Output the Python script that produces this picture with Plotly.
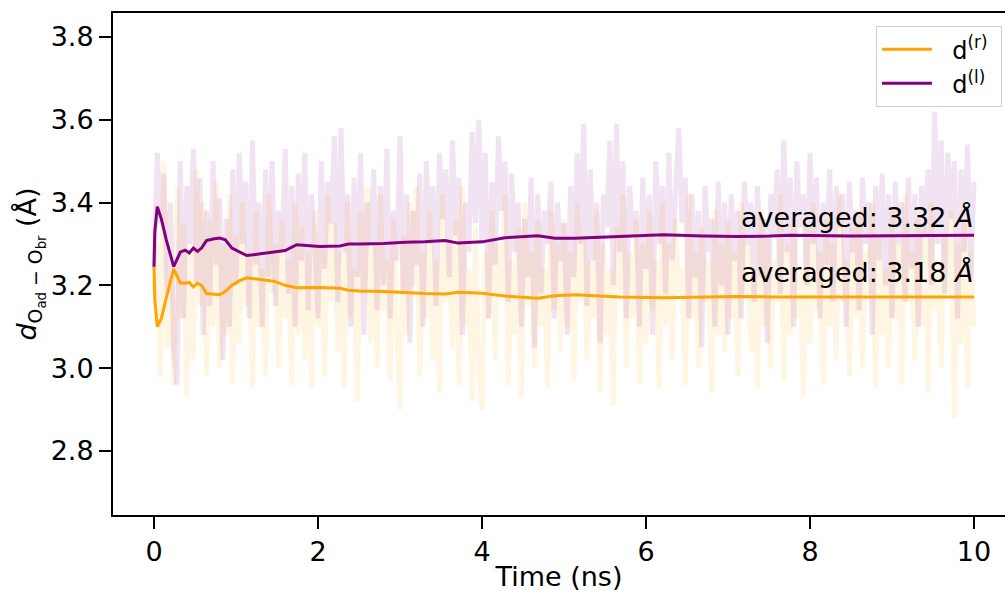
import numpy as np
import plotly.graph_objects as go

# ---------------- data ----------------
# raw trajectories, sampled every 0.04 ns from 0 to 10 ns
raw_l = [
    3.24, 3.52, 3.35, 3.47, 3.18, 3.40, 3.05, 2.96, 3.50, 3.12, 3.44, 3.30, 3.53, 3.20, 3.46, 3.08, 3.38, 3.15, 3.50, 3.25, 3.41, 3.02, 3.36, 3.10, 3.48,
    3.20, 3.52, 3.30, 3.45, 3.12, 3.55, 3.25, 3.40, 3.10, 3.48, 3.22, 3.50, 3.15, 3.38, 3.28, 3.53, 3.18, 3.44, 3.10, 3.47, 3.26, 3.52, 3.14, 3.42, 3.30,
    3.12, 3.50, 3.24, 3.45, 3.35, 3.56, 3.16, 3.58, 3.28, 3.42, 3.10, 3.46, 3.22, 3.52, 3.08, 3.40, 3.30, 3.48, 3.14, 3.44, 3.20, 3.53, 3.12, 3.38, 3.26,
    3.56, 3.18, 3.42, 3.06, 3.38, 3.25, 3.47, 3.10, 3.50, 3.30, 3.44, 3.15, 3.52, 3.36, 3.48, 3.22, 3.55, 3.32, 3.46, 3.08, 3.40, 3.28, 3.57, 3.35, 3.60,
    3.30, 3.52, 3.12, 3.45, 3.25, 3.56, 3.38, 3.50, 3.16, 3.47, 3.28, 3.40, 3.10, 3.36, 3.22, 3.46, 3.05, 3.42, 3.18, 3.38, 3.30, 3.45, 3.12, 3.40, 3.26,
    3.35, 3.08, 3.44, 3.22, 3.52, 3.30, 3.59, 3.15, 3.48, 3.26, 3.40, 3.06, 3.42, 3.34, 3.55, 3.20, 3.59, 3.28, 3.50, 3.12, 3.44, 3.32, 3.38, 3.10, 3.46,
    3.24, 3.42, 3.08, 3.50, 3.30, 3.44, 3.18, 3.52, 3.26, 3.40, 3.58, 3.35, 3.46, 3.12, 3.42, 3.22, 3.38, 3.05, 3.44, 3.28, 3.36, 3.10, 3.45, 3.20, 3.40,
    3.08, 3.42, 3.26, 3.38, 3.12, 3.45, 3.30, 3.40, 3.16, 3.44, 3.22, 3.36, 3.06, 3.42, 3.32, 3.48, 3.18, 3.55, 3.28, 3.46, 3.10, 3.50, 3.34, 3.42, 3.20,
    3.52, 3.30, 3.46, 3.12, 3.40, 3.25, 3.48, 3.16, 3.44, 3.34, 3.42, 3.10, 3.45, 3.28, 3.38, 3.14, 3.46, 3.30, 3.40, 3.08, 3.44, 3.26, 3.47, 3.20, 3.42,
    3.12, 3.45, 3.30, 3.40, 3.16, 3.46, 3.24, 3.42, 3.10, 3.44, 3.32, 3.48, 3.20, 3.62, 3.30, 3.55, 3.18, 3.52, 3.36, 3.50, 3.12, 3.48, 3.28, 3.54, 3.22,
    3.45,
]
raw_r = [
    3.18, 3.30, 2.98, 3.50, 3.05, 3.22, 2.96, 3.44, 3.12, 3.35, 2.93, 3.28, 3.02, 3.48, 3.15, 3.40, 2.98, 3.36, 3.10, 3.45, 3.00, 3.30, 3.08, 3.42, 2.96,
    3.32, 3.06, 3.40, 3.15, 3.28, 2.95, 3.38, 3.10, 3.24, 2.98, 3.42, 3.18, 3.30, 3.00, 3.36, 3.12, 3.26, 2.96, 3.40, 3.08, 3.34, 3.02, 3.28, 2.95, 3.38,
    3.10, 3.30, 2.98, 3.42, 3.16, 3.35, 3.04, 3.28, 2.95, 3.40, 3.12, 3.24, 2.92, 3.38, 3.18, 3.44, 3.06, 3.30, 3.00, 3.42, 3.14, 3.26, 2.97, 3.36, 3.10,
    2.90, 3.32, 3.08, 3.40, 3.20, 3.44, 2.98, 3.28, 3.12, 3.38, 3.02, 3.26, 2.94, 3.42, 3.16, 3.30, 3.05, 3.36, 2.96, 3.44, 3.10, 3.24, 2.92, 3.34, 3.00,
    2.90, 3.28, 3.12, 3.38, 3.02, 3.30, 3.18, 3.42, 2.96, 3.26, 3.08, 3.34, 2.93, 3.40, 3.15, 3.28, 3.00, 3.36, 3.10, 3.24, 2.95, 3.38, 3.14, 3.30, 3.04,
    3.36, 3.10, 3.28, 2.97, 3.40, 3.16, 3.32, 3.02, 3.26, 3.12, 3.38, 2.94, 3.30, 3.08, 3.24, 2.91, 3.34, 3.18, 3.42, 3.00, 3.28, 3.12, 3.36, 2.96, 3.30,
    3.06, 3.38, 3.14, 3.26, 2.95, 3.40, 3.10, 3.30, 3.02, 3.36, 3.18, 3.24, 2.96, 3.42, 3.12, 3.28, 3.00, 3.34, 3.16, 3.26, 2.94, 3.38, 3.08, 3.30, 3.04,
    3.36, 3.12, 3.28, 2.98, 3.40, 3.18, 3.30, 3.04, 3.24, 2.95, 3.38, 3.10, 3.32, 3.00, 3.26, 3.16, 3.42, 2.97, 3.30, 3.08, 3.36, 3.12, 3.24, 2.93, 3.34,
    3.06, 3.40, 3.14, 3.28, 2.96, 3.36, 3.10, 3.30, 3.02, 3.42, 3.16, 3.26, 2.98, 3.34, 3.12, 3.38, 3.00, 3.28, 3.18, 3.40, 2.95, 3.32, 3.08, 3.24, 3.00,
    3.38, 3.12, 3.30, 2.96, 3.42, 3.16, 3.28, 3.02, 3.36, 3.10, 3.34, 2.94, 3.40, 3.14, 3.26, 3.00, 3.32, 3.18, 3.38, 2.88, 3.30, 3.06, 3.36, 2.95, 3.28,
    3.10,
]
t_raw = np.linspace(0, 10, len(raw_r))

# running averages
t_avg = [0.0, 0.01, 0.04, 0.09, 0.15, 0.24, 0.32, 0.38, 0.43, 0.48, 0.53, 0.58, 0.64, 0.72, 0.80, 0.87,
         0.95, 1.05, 1.13, 1.30, 1.46, 1.60, 1.74, 2.02, 2.27, 2.37, 2.51, 2.80, 3.06, 3.30, 3.55, 3.71,
         4.00, 4.28, 4.68, 4.89, 5.13, 5.68, 6.21, 6.70, 7.10, 7.51, 7.76, 8.50, 9.32, 10.0]
avg_l = [3.245, 3.33, 3.39, 3.36, 3.31, 3.245, 3.28, 3.285, 3.278, 3.29, 3.282, 3.29, 3.308, 3.312, 3.314, 3.31,
         3.29, 3.28, 3.272, 3.276, 3.28, 3.284, 3.298, 3.294, 3.295, 3.30, 3.30, 3.301, 3.304, 3.305, 3.308, 3.302,
         3.305, 3.315, 3.32, 3.314, 3.314, 3.319, 3.322, 3.319, 3.318, 3.319, 3.321, 3.319, 3.321, 3.321]
avg_r = [3.245, 3.165, 3.10, 3.12, 3.17, 3.24, 3.206, 3.205, 3.207, 3.196, 3.205, 3.20, 3.18, 3.178, 3.177, 3.185,
         3.20, 3.212, 3.218, 3.214, 3.21, 3.20, 3.194, 3.195, 3.193, 3.188, 3.186, 3.185, 3.182, 3.18, 3.179, 3.183,
         3.181, 3.174, 3.169, 3.175, 3.177, 3.172, 3.17, 3.172, 3.173, 3.172, 3.172, 3.172, 3.173, 3.172]

labels = ["\u00a0\u00a0d<sup>(r)</sup>\u00a0", "\u00a0\u00a0d<sup>(l)</sup>\u00a0"]
ann_text = ["averaged: 3.32 <i>Å</i>", "averaged: 3.18 <i>Å</i>"]
ann_x = [10.025, 10.025]
ann_y = [3.365, 3.23]
x_ticks = [0, 2, 4, 6, 8, 10]
y_ticks = [2.8, 3.0, 3.2, 3.4, 3.6, 3.8]

ORANGE = "#FFA500"
PURPLE = "#800080"
FONT = "DejaVu Sans"

fig = go.Figure()
fig.add_trace(go.Scatter(x=t_raw, y=raw_r, mode="lines", showlegend=False, hoverinfo="skip",
                         line=dict(color="rgba(255,165,0,0.11)", width=5)))
fig.add_trace(go.Scatter(x=t_raw, y=raw_l, mode="lines", showlegend=False, hoverinfo="skip",
                         line=dict(color="rgba(128,0,128,0.11)", width=5)))
fig.add_trace(go.Scatter(x=t_avg, y=avg_r, mode="lines", name=labels[0],
                         line=dict(color=ORANGE, width=3)))
fig.add_trace(go.Scatter(x=t_avg, y=avg_l, mode="lines", name=labels[1],
                         line=dict(color=PURPLE, width=3)))

for txt, xx, yy in zip(ann_text, ann_x, ann_y):
    fig.add_annotation(x=xx, y=yy, text=txt, showarrow=False, xanchor="right", yanchor="middle",
                       font=dict(family=FONT, size=27, color="black"))

axis_common = dict(showline=True, linecolor="black", linewidth=2, ticks="outside", ticklen=12,
                   tickwidth=2, tickcolor="black", showgrid=False, zeroline=False,
                   tickfont=dict(family=FONT, size=27, color="black"))

fig.update_layout(
    width=1005, height=592,
    margin=dict(l=113, r=0, t=13, b=77),
    plot_bgcolor="white", paper_bgcolor="white",
    font=dict(family=FONT, color="black"),
    xaxis=dict(range=[-0.5, 10.378], tickvals=x_ticks, mirror=True,
               title=dict(text="Time (ns)", font=dict(family=FONT, size=27), standoff=4),
               **axis_common),
    yaxis=dict(range=[2.645, 3.858], tickvals=y_ticks, tickformat=".1f", mirror=False,
               title=dict(text="<i>d</i><sub>O<sub>ad</sub> − O<sub>br</sub></sub> (Å)",
                          font=dict(family=FONT, size=27), standoff=6),
               **axis_common),
    legend=dict(x=0.9966, y=0.974, xanchor="right", yanchor="top",
                bgcolor="white", bordercolor="#d0d0d0", borderwidth=1,
                font=dict(family=FONT, size=24), itemwidth=50, tracegroupgap=0),
    showlegend=True,
)

fig.write_html("out.html")
